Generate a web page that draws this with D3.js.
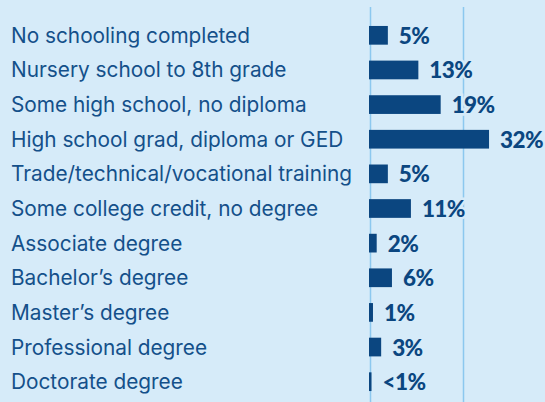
<!DOCTYPE html>
<html><head><meta charset="utf-8">
<script src="https://cdn.jsdelivr.net/npm/d3@7"></script>
<style>
html,body{margin:0;padding:0;background:#d6ebf9;}
svg{display:block;}
</style></head>
<body><svg id="c" width="545" height="402"></svg>
<script>
const categories = ["No schooling completed","Nursery school to 8th grade","Some high school, no diploma","High school grad, diploma or GED","Trade/technical/vocational training","Some college credit, no degree","Associate degree","Bachelor\u2019s degree","Master\u2019s degree","Professional degree","Doctorate degree"];
const values = [4.8, 13, 19, 32, 4.8, 11, 1.8, 5.9, 0.8, 3, 0.4];
const valueLabels = ["5%","13%","19%","32%","5%","11%","2%","6%","1%","3%","<1%"];
const gridTicks = [0, 25];

const W = 545, H = 402;
const bg = "#d6ebf9", dark = "#0b4680";
const svg = d3.select("#c");
svg.append("rect").attr("width", W).attr("height", H).attr("fill", bg);

const x = d3.scaleLinear().domain([0, 25]).range([370, 463]);
const y = d3.scaleBand().domain(categories).range([18, 399]).paddingInner(0.46).paddingOuter(0.23);

svg.append("g").selectAll("line").data(gridTicks).join("line")
  .attr("x1", d => x(d) + 0.5).attr("x2", d => x(d) + 0.5)
  .attr("y1", 7).attr("y2", H)
  .attr("stroke", "#8cc8ef").attr("stroke-width", 1.5);

svg.append("g").selectAll("rect").data(values).join("rect")
  .attr("x", x(0) - 1)
  .attr("y", (d, i) => y(categories[i]))
  .attr("width", d => x(d) - x(0) + 1)
  .attr("height", y.bandwidth())
  .attr("fill", dark);

svg.append("g").selectAll("text").data(categories).join("text")
  .attr("x", 11)
  .attr("y", d => y(d) + y.bandwidth() / 2 + 7.5)
  .attr("font-family", "Inter, sans-serif")
  .attr("font-size", 20.8)
  .attr("fill", "#14508a")
  .text(d => d);

svg.append("g").selectAll("text").data(values).join("text")
  .attr("x", d => x(d) + 11)
  .attr("y", (d, i) => y(categories[i]) + y.bandwidth() / 2 + 8.5)
  .attr("font-family", "Lato, sans-serif")
  .attr("font-weight", 900)
  .attr("font-size", 22.5)
  .attr("letter-spacing", -0.6)
  .attr("fill", dark)
  .attr("stroke", bg).attr("stroke-width", 5).attr("paint-order", "stroke")
  .text((d, i) => valueLabels[i]);
</script></body></html>
